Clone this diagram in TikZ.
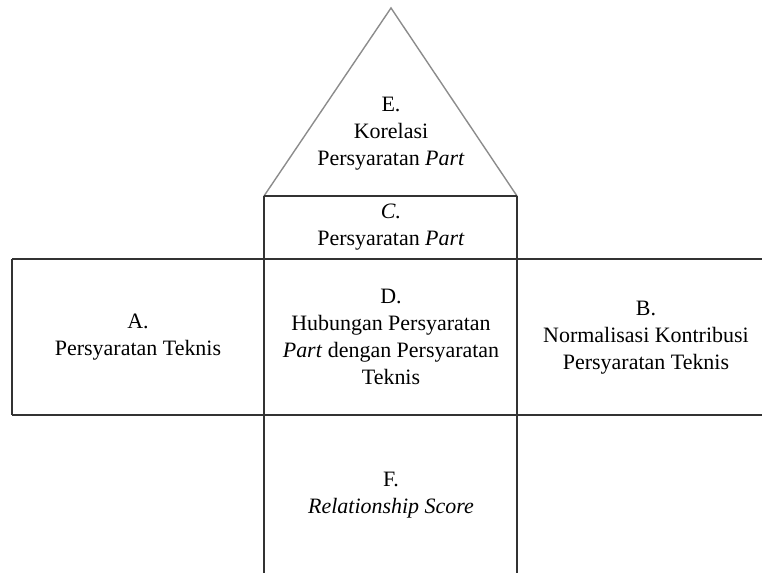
\documentclass[tikz,border=0pt]{standalone}
\usepackage{fontspec}
\setmainfont{Liberation Serif}
\usepackage{tikz}
\usetikzlibrary{positioning}

\begin{document}
\begin{tikzpicture} [x = 0.02cm, y = -0.02cm,
  label text/.style = {align = center, inner sep =0pt, font = \fontsize{12.5}{15.3}\selectfont},
  grid line/.style = {draw = black!80, line width = 0.8pt},
  roof line/.style = {draw = black!45, line width = 0.8pt}]
\useasboundingbox (0,0) rectangle (762,573);
\coordinate (top) at (391,8);
\coordinate (rl) at (264,196);
\coordinate (rr) at (517,196);
\coordinate (al) at (12,259);
\coordinate (bl) at (12,415);
\coordinate (br) at (762,259);
\coordinate (bb) at (762,415);
\coordinate (fl) at (264,573);
\coordinate (fr) at (517,573);
\draw [roof line] (rl) -- (top) -- (rr);
\draw [grid line] (rl) -- (rr);
\draw [grid line] (rl) -- (fl);
\draw [grid line] (rr) -- (fr);
\draw [grid line] (al) -- (br);
\draw [grid line] (bl) -- (bb);
\draw [grid line] (al) -- (bl);
\node[label text] (e) at (391,134) {E.\\Korelasi\\Persyaratan \textit{Part}};
\node[label text] (c) at (391,227) {\textit{C.}\\Persyaratan \textit{Part}};
\node[label text] (a) at (138,337) {A.\\Persyaratan Teknis};
\node[label text] (d) at (391,337) {D.\\Hubungan Persyaratan\\\textit{Part} dengan Persyaratan\\Teknis};
\node[label text] (b) at (646,338) {B.\\Normalisasi Kontribusi\\Persyaratan Teknis};
\node[label text] (f) at (391,495) {F.\\\textit{Relationship Score}};
\end{tikzpicture}
\end{document}
